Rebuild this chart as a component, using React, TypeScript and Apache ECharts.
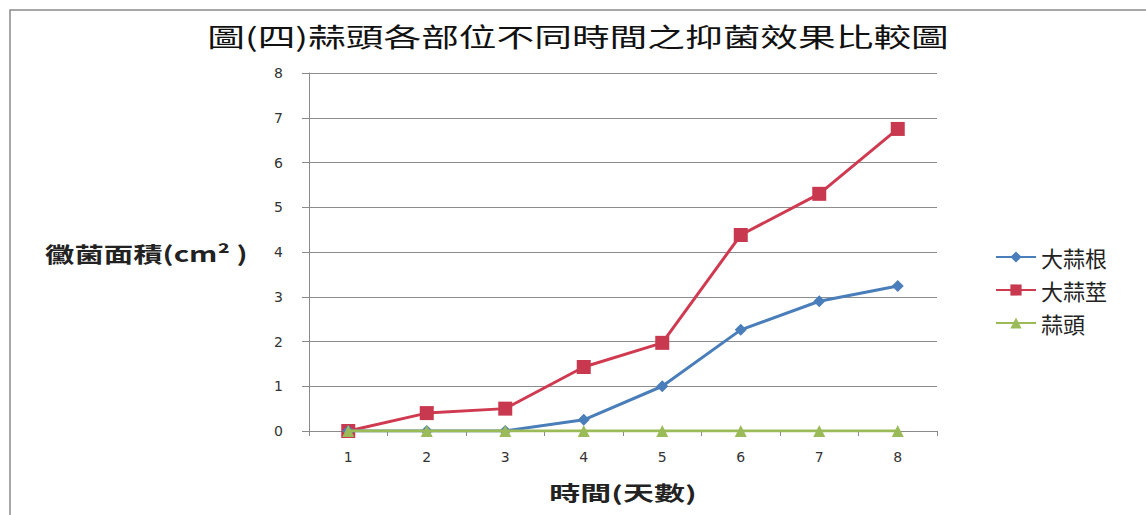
import React, { useEffect, useRef } from "react";
import * as echarts from "echarts";

const categories = ["1", "2", "3", "4", "5", "6", "7", "8"];
const rootSeries = [0, 0, 0, 0.25, 1.0, 2.26, 2.9, 3.24];
const stemSeries = [0, 0.4, 0.5, 1.43, 1.97, 4.38, 5.3, 6.75];
const bulbSeries = [0, 0, 0, 0, 0, 0, 0, 0];
const seriesNames = ["大蒜根", "大蒜莖", "蒜頭"];
const titleText = "圖(四)蒜頭各部位不同時間之抑菌效果比較圖";
const yAxisTitle = "黴菌面積(cm² )";
const xAxisTitle = "時間(天數)";

export default function App() {
  const ref = useRef<HTMLDivElement>(null);
  useEffect(() => {
    if (!ref.current) return;
    const chart = echarts.init(ref.current, undefined, { renderer: "svg" });
    const cjk = "'Noto Sans CJK TC', 'Noto Sans', sans-serif";
    const num = "'DejaVu Sans', 'Liberation Sans', sans-serif";
    chart.setOption({
      animation: false,
      backgroundColor: "#ffffff",
      legend: {
        orient: "vertical",
        left: 990,
        top: 241,
        itemGap: 11,
        itemWidth: 40,
        itemHeight: 14,
        textStyle: { fontFamily: cjk, fontSize: 22, color: "#222" },
        data: seriesNames,
      },
      grid: { left: 309, right: 209, top: 73, bottom: 84, containLabel: false },
      xAxis: {
        type: "category",
        data: categories,
        boundaryGap: true,
        axisLine: { lineStyle: { color: "#8a8a8a" } },
        axisTick: { show: true, length: 5, lineStyle: { color: "#8a8a8a" } },
        axisLabel: { fontFamily: num, fontSize: 14, color: "#333", margin: 19 },
      },
      yAxis: {
        type: "value",
        min: 0,
        max: 8,
        interval: 1,
        axisLine: { show: true, lineStyle: { color: "#8a8a8a" } },
        axisTick: { show: true, length: 7, lineStyle: { color: "#8a8a8a" } },
        splitLine: { lineStyle: { color: "#8c8c8c", width: 1 } },
        axisLabel: { fontFamily: num, fontSize: 14, color: "#333", margin: 26 },
      },
      graphic: [
        {
          type: "rect",
          shape: { x: 10, y: 10, width: 1200, height: 600 },
          style: { fill: "none", stroke: "#8a8a8a", lineWidth: 1.5 },
          silent: true,
        },
        {
          type: "text",
          x: 578,
          y: 35,
          scaleX: 1.45,
          style: {
            text: titleText,
            fontFamily: cjk,
            fontSize: 26,
            fontWeight: "normal",
            fill: "#111",
            align: "center",
            verticalAlign: "middle",
          },
        },
        {
          type: "text",
          x: 45,
          y: 253,
          scaleX: 1.4,
          style: {
            text: yAxisTitle,
            fontFamily: cjk,
            fontSize: 21,
            fontWeight: "bold",
            fill: "#222",
            verticalAlign: "middle",
          },
        },
        {
          type: "text",
          x: 623,
          y: 493,
          scaleX: 1.55,
          style: {
            text: xAxisTitle,
            fontFamily: cjk,
            fontSize: 20,
            fontWeight: "bold",
            fill: "#222",
            align: "center",
            verticalAlign: "middle",
          },
        },
      ],
      series: [
        {
          name: seriesNames[0],
          type: "line",
          data: rootSeries,
          symbol: "diamond",
          symbolSize: 12,
          itemStyle: { color: "#4A7EBB" },
          lineStyle: { color: "#4A7EBB", width: 3 },
          z: 3,
        },
        {
          name: seriesNames[1],
          type: "line",
          data: stemSeries,
          symbol: "rect",
          symbolSize: 14,
          itemStyle: { color: "#C8384E" },
          lineStyle: { color: "#D03A50", width: 3 },
          z: 2,
        },
        {
          name: seriesNames[2],
          type: "line",
          data: bulbSeries,
          symbol: "triangle",
          symbolSize: 12,
          itemStyle: { color: "#9BBB59" },
          lineStyle: { color: "#9BBB59", width: 3 },
          z: 4,
        },
      ],
    });
    return () => chart.dispose();
  }, []);
  return (
    <div
      ref={ref}
      style={{ position: "absolute", left: 0, top: 0, width: 1146, height: 515 }}
    />
  );
}
